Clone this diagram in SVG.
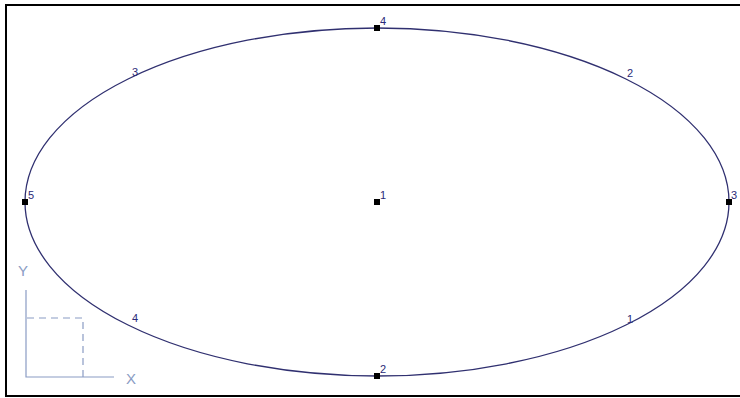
<svg xmlns="http://www.w3.org/2000/svg" width="740" height="398" viewBox="0 0 740 398">
<style>
.lbl{font-family:"Liberation Sans",Arial,sans-serif;font-size:11px;fill:#2a2a78}
.ucs{stroke:#8a9cc4;stroke-width:1.2;fill:none}
.ucst{font-family:"Liberation Sans",Arial,sans-serif;font-size:15px;fill:#8a9cc4}
.pt{fill:#000}
</style>
<rect width="740" height="398" fill="#fff"/>
<rect x="6" y="5" width="740" height="391" fill="none" stroke="#000" stroke-width="2"/>
<g id="connectors">
<ellipse cx="377" cy="202" rx="352" ry="174" fill="none" stroke="#303070" stroke-width="1.3"/>
<text class="lbl" x="132" y="76">3</text>
<text class="lbl" x="627" y="77">2</text>
<text class="lbl" x="132" y="322">4</text>
<text class="lbl" x="627" y="323">1</text>
</g>
<g id="ucs">
<path class="ucs" d="M26,290 V377 H114"/>
<path class="ucs" stroke-dasharray="7,5" d="M27,318 H83 V377"/>
<text class="ucst" x="18" y="276">Y</text>
<text class="ucst" x="126" y="384">X</text>
</g>
<g id="n1"><rect class="pt" x="374" y="199" width="6" height="6"/><text class="lbl" x="380" y="199">1</text></g>
<g id="n2"><rect class="pt" x="374" y="373" width="6" height="6"/><text class="lbl" x="380" y="373">2</text></g>
<g id="n3"><rect class="pt" x="726" y="199" width="6" height="6"/><text class="lbl" x="731" y="199">3</text></g>
<g id="n4"><rect class="pt" x="374" y="25" width="6" height="6"/><text class="lbl" x="380" y="25">4</text></g>
<g id="n5"><rect class="pt" x="22" y="199" width="6" height="6"/><text class="lbl" x="28" y="199">5</text></g>
</svg>
